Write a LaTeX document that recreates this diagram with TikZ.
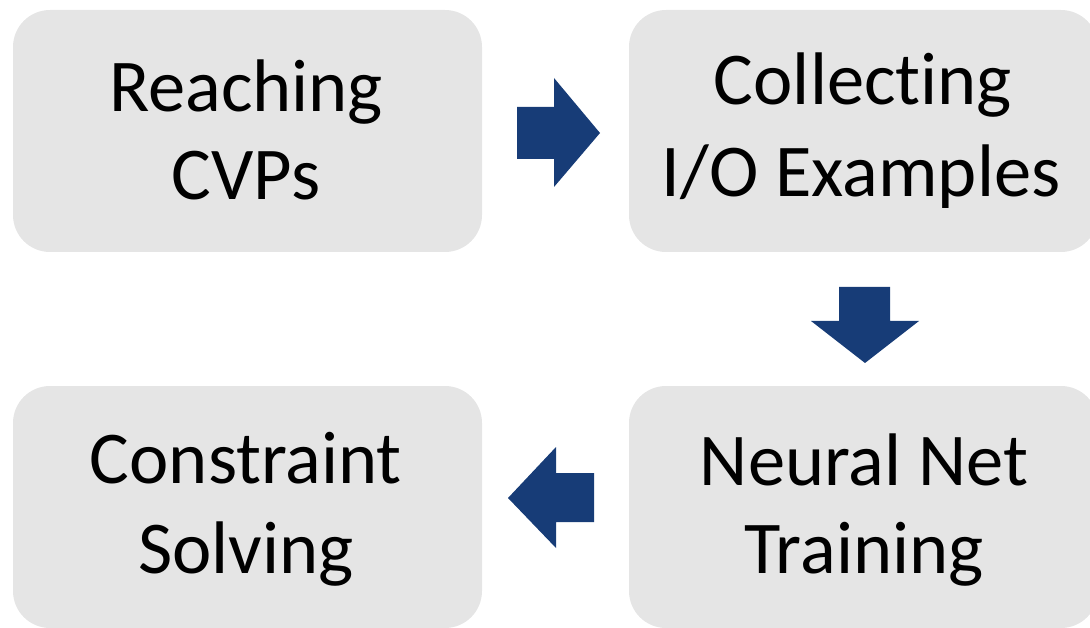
\documentclass[tikz,border=0pt]{standalone}
\usepackage{fontspec}
\setmainfont[Ligatures=NoCommon]{Carlito}
\definecolor{boxgray}{HTML}{E5E5E5}
\definecolor{navy}{HTML}{173C77}
\begin{document}
\begin{tikzpicture}[x=1pt,y=-1pt,
  stage/.style={fill=boxgray,draw=none,rounded corners=37pt},
  line/.style={anchor=base,inner sep=0pt,font=\fontsize{74.5}{88}\selectfont},
  blockarrow/.style={fill=navy,draw=none}]
\useasboundingbox (0,0) rectangle (1090,628);
\begin{scope}
\clip (0,0) rectangle (1090,628);
% stage boxes
\path[stage] (13,10) rectangle (482,252);
\path[stage] (629,10) rectangle (1098,252);
\path[stage] (13,386) rectangle (482,628);
\path[stage] (629,386) rectangle (1098,628);
\end{scope}
% box anchors
\coordinate (reach) at (247.5,131);
\coordinate (collect) at (863.5,131);
\coordinate (solve) at (247.5,507);
\coordinate (train) at (863.5,507);
% labels, one node per line
\node[line] (reach1) at (246,112) {Reaching};
\node[line] (reach2) at (246,200) {CVPs};
\node[line] (collect1) at (863,105) {Collect\kern0pt ing};
\node[line] (collect2) at (861,197) {I/O Examples};
\node[line] (solve1) at (246,483) {Constraint};
\node[line] (solve2) at (246,573) {Solving};
\node[line] (train1) at (864,485) {Neural Net};
\node[line] (train2) at (864,573) {Training};
% block arrows between the stages
\fill[blockarrow] (517,107) -- (554,107) -- (554,78) -- (600,133) -- (554,187) -- (554,159) -- (517,159) -- cycle;
\fill[blockarrow] (839,287) -- (890,287) -- (890,321) -- (919,321) -- (865,363) -- (811,321) -- (839,321) -- cycle;
\fill[blockarrow] (594,473) -- (556,473) -- (556,447) -- (508,498) -- (556,548) -- (556,522) -- (594,522) -- cycle;
\end{tikzpicture}
\end{document}
